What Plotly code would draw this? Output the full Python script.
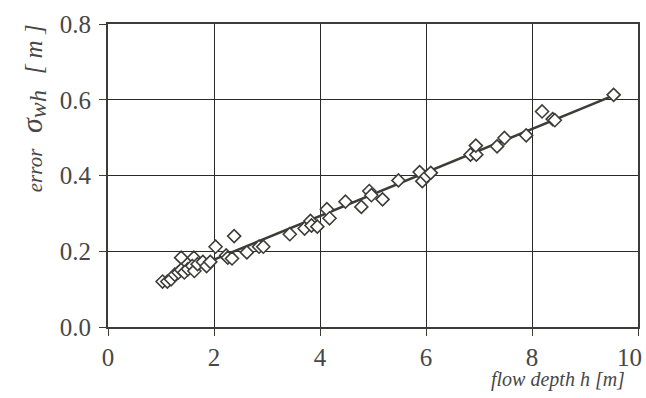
import plotly.graph_objects as go

# measured points: flow depth h [m] and error sigma_wh [m]
depth = [1.03, 1.12, 1.19, 1.26, 1.33, 1.38, 1.38, 1.44, 1.51, 1.62, 1.59, 1.63, 1.69,
         1.79, 1.86, 1.93, 2.03, 2.23, 2.26, 2.34, 2.38, 2.62, 2.85, 2.93, 3.43, 3.71,
         3.82, 3.84, 3.95, 4.13, 4.18, 4.48, 4.78, 4.93, 4.97, 5.18, 5.48, 5.88, 5.93,
         6.01, 6.09, 6.84, 6.95, 6.94, 7.34, 7.48, 7.89, 8.19, 8.39, 8.43, 9.54]
error = [0.120, 0.120, 0.126, 0.138, 0.144, 0.183, 0.151, 0.144, 0.153, 0.183, 0.161, 0.148, 0.166,
         0.172, 0.161, 0.172, 0.212, 0.189, 0.183, 0.181, 0.240, 0.197, 0.212, 0.212, 0.245, 0.260,
         0.280, 0.268, 0.265, 0.311, 0.287, 0.331, 0.317, 0.359, 0.348, 0.337, 0.387, 0.409, 0.385,
         0.398, 0.407, 0.455, 0.455, 0.479, 0.477, 0.499, 0.506, 0.569, 0.549, 0.546, 0.613]

# fitted line endpoints
fit_x = [2.0, 9.6]
fit_y = [0.178, 0.615]

x_ticks = [0, 2, 4, 6, 8, 10]
x_tick_labels = ["0", "2", "4", "6", "8", ""]   # last label drawn as annotation (kept inside page)
x_last_label = "10"
y_ticks = [0.0, 0.2, 0.4, 0.6, 0.8]
y_tick_labels = ["0.0", "0.2", "0.4", "0.6", "0.8"]

ink = "#3c3c38"
txt = "#474747"
font = "'Times New Roman', 'Liberation Serif', 'DejaVu Serif', serif"

fig = go.Figure()
fig.add_trace(go.Scatter(x=fit_x, y=fit_y, mode="lines",
                         line=dict(color=ink, width=2.5), hoverinfo="skip"))
fig.add_trace(go.Scatter(x=depth, y=error, mode="markers",
                         marker=dict(symbol="diamond", size=10, color="white",
                                     line=dict(color=ink, width=1.6))))

y_title = ("<i>error&nbsp;&nbsp;&nbsp;<span style='font-size:30px'>σ</span>"
           "<sub><span style='font-size:24px'>wh</span></sub>&nbsp;&nbsp;&nbsp;"
           "<span style='font-size:25px'>[&nbsp;m&nbsp;]</span></i>")

fig.update_layout(
    width=646, height=398,
    margin=dict(l=108, r=8, t=24, b=71, autoexpand=False),
    paper_bgcolor="white", plot_bgcolor="white",
    showlegend=False,
    font=dict(family=font, size=25, color=txt),
    xaxis=dict(range=[0, 10], tickvals=x_ticks, ticktext=x_tick_labels,
               showgrid=True, gridcolor="#2a2a2a", gridwidth=1,
               showline=True, linecolor=ink, linewidth=2, mirror=True,
               ticks="outside", ticklen=7, tickcolor=ink, zeroline=False,
               automargin=False,
               tickfont=dict(family=font, size=25, color=txt)),
    yaxis=dict(range=[0, 0.8], tickvals=y_ticks, ticktext=y_tick_labels,
               showgrid=True, gridcolor="#2a2a2a", gridwidth=1,
               showline=True, linecolor=ink, linewidth=2, mirror=True,
               ticks="outside", ticklen=7, tickcolor=ink, zeroline=False,
               automargin=False, ticklabelstandoff=3,
               tickfont=dict(family=font, size=25, color=txt)),
    annotations=[
        dict(text=x_last_label, xref="x", yref="y", x=x_ticks[-1], y=y_ticks[0],
             xanchor="right", yanchor="middle", xshift=6, yshift=-30, showarrow=False,
             font=dict(family=font, size=25, color=txt)),
        dict(text="<i>flow depth h [m]</i>", xref="paper", yref="paper",
             x=0.979, y=-0.172, xanchor="right", yanchor="middle", showarrow=False,
             font=dict(family=font, size=20, color=txt)),
        dict(text=y_title, xref="paper", yref="paper",
             x=-0.1415, y=0.722, xanchor="center", yanchor="middle", textangle=-90,
             showarrow=False, font=dict(family=font, size=21, color=txt)),
    ],
)

fig.write_html("out.html", config={"displayModeBar": False},
               post_script="document.body.style.margin='0';document.body.style.overflow='hidden';")
